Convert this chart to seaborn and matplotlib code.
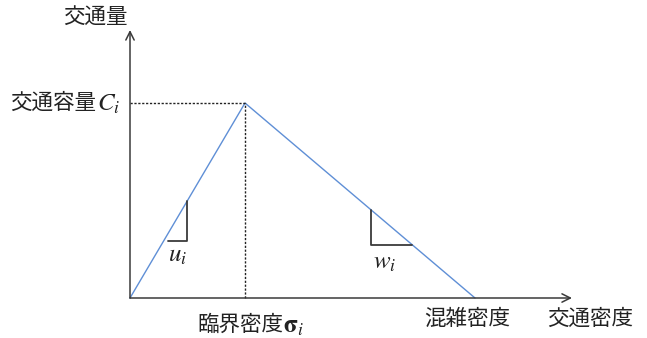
import matplotlib
matplotlib.use("Agg")
import matplotlib.pyplot as plt
import seaborn as sns
import pandas as pd

# Triangular fundamental diagram (density vs. flow)
density = [0.0, 1.0, 3.0]        # origin, critical density, jam density
flow = [0.0, 1.0, 0.0]           # zero, capacity, zero
axis_label_x = "交通密度"
axis_label_y = "交通量"
capacity_label = ("交通容量", "$C_i$")
critical_label = ("臨界密度", "$\\mathbf{\\sigma}_i$")
jam_label = "混雑密度"
free_speed_label = "$u_i$"
wave_speed_label = "$w_i$"

sns.set_theme(style="white")
plt.rcParams["font.family"] = ["Noto Sans CJK JP", "DejaVu Sans"]
plt.rcParams["mathtext.fontset"] = "stix"

W, H = 647, 338
fig = plt.figure(figsize=(W / 100, H / 100), dpi=100)
ax = fig.add_axes([0, 0, 1, 1])

# pixel mapping: origin at (130, 298), 115 px per density unit, 195 px per flow unit
ox, oy, sx, sy = 130, 298, 115, 195
ax.set_xlim(-ox / sx, (W - ox) / sx)
ax.set_ylim((oy - H) / sy, oy / sy)
ax.axis("off")


def px(x):
    return (x - ox) / sx


def py(y):
    return (oy - y) / sy


df = pd.DataFrame({"density": density, "flow": flow})
sns.lineplot(data=df, x="density", y="flow", color="#5f8fd6", linewidth=1.0, ax=ax)

axis_col = "#3a3a3a"
arrow = dict(arrowstyle="->,head_length=0.5,head_width=0.25",
             color=axis_col, lw=1.1, shrinkA=0, shrinkB=0)
ax.annotate("", xy=(px(572), 0), xytext=(0, 0), arrowprops=arrow)
ax.annotate("", xy=(0, py(30)), xytext=(0, 0), arrowprops=arrow)

# guide lines to the capacity point
crit_x, cap_y, jam_x = density[1], flow[1], density[2]
dash = dict(color="#222222", lw=1.0, ls=(0, (1.6, 1.2)))
ax.plot([0, crit_x], [cap_y, cap_y], **dash)
ax.plot([crit_x, crit_x], [0, cap_y], **dash)

# slope triangles
up = cap_y / crit_x
down = cap_y / (jam_x - crit_x)
ux0, ux1 = px(168), px(187)
uy_bot = py(241)
ax.plot([ux0, ux1, ux1], [uy_bot, uy_bot, up * ux1], color=axis_col, lw=1.3)
wx0 = px(371)
wy_bot = py(245)
wy_top = cap_y - down * (wx0 - crit_x)
wx1 = crit_x + (cap_y - wy_bot) / down
ax.plot([wx1, wx0, wx0], [wy_bot, wy_bot, wy_top], color=axis_col, lw=1.3)

fs = 15.5
mfs = 18
txt = "#222222"
ax.text(px(128), py(18), axis_label_y, ha="right", va="center", fontsize=fs, color=txt)
ax.text(px(96), cap_y, capacity_label[0], ha="right", va="center", fontsize=fs, color=txt)
ax.text(px(97), py(104), capacity_label[1], ha="left", va="center", fontsize=mfs, color=txt)
ax.text(px(283), py(325), critical_label[0], ha="right", va="center", fontsize=fs, color=txt)
ax.text(px(283), py(326), critical_label[1], ha="left", va="center", fontsize=mfs, color=txt)
ax.text(px(467), py(319), jam_label, ha="center", va="center", fontsize=fs, color=txt)
ax.text(px(590), py(319), axis_label_x, ha="center", va="center", fontsize=fs, color=txt)
ax.text(px(178), py(255), free_speed_label, ha="center", va="center", fontsize=mfs, color=txt)
ax.text(px(385), py(262), wave_speed_label, ha="center", va="center", fontsize=mfs, color=txt)

fig.savefig("out.png", dpi=100)
